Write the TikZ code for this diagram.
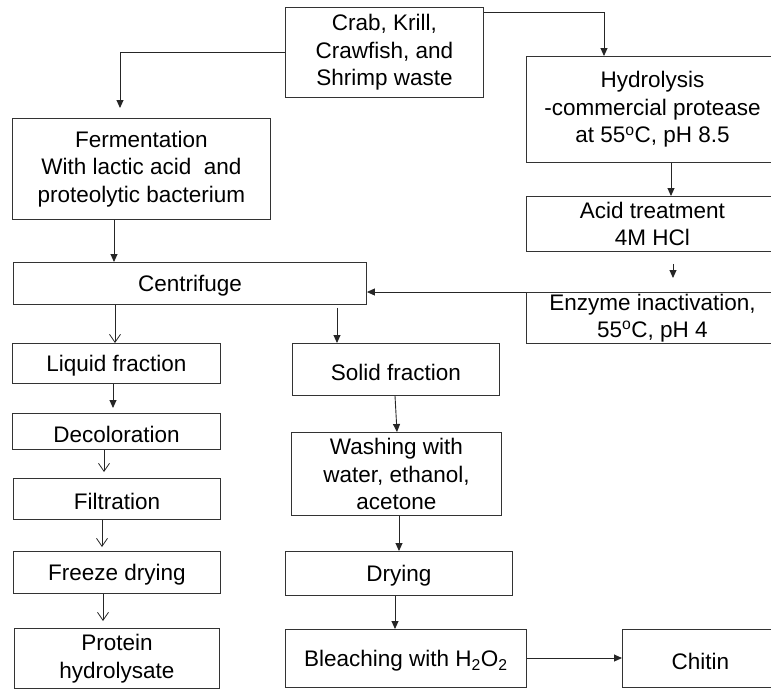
\documentclass[tikz,border=0pt]{standalone}
\usepackage{fontspec}
\setmainfont{Liberation Sans}
\usetikzlibrary{arrows.meta}
\begin{document}
\begin{tikzpicture}[x=1pt,y=-1pt,
  box/.style={draw=black!80, line width=0.9pt, anchor=north west, inner sep=0pt, align=center,
    font=\fontsize{22.5}{27.5}\selectfont, execute at begin node={\rule{0pt}{21.5pt}}},
  fl/.style={draw=black!85, line width=0.9pt, -{Triangle[length=8pt,width=7pt]}},
  op/.style={draw=black!85, line width=0.8pt, -{Straight Barb[length=8pt,width=11pt]}}]
\useasboundingbox (0,0) rectangle (771,689);
\clip (0,0) rectangle (771,689);
\newcommand{\bx}[6]{\node[box, minimum width=#4-#2, minimum height=#5-#3] (#1) at (#2,#3) {#6};}
\bx{crab}{285}{7}{483}{97}{Crab, Krill,\\Crawfish, and\\Shrimp waste}
\bx{ferm}{12}{118}{270}{219}{Fermentation\\With lactic acid\ \ and\\proteolytic bacterium}
\bx{hyd}{526}{56}{778}{162}{Hydrolysis\\-commercial protease\\at 55\textsuperscript{o}C, pH 8.5}
\bx{acid}{526}{196}{778}{251}{Acid treatment\\4M HCl}
\bx{enz}{526}{292}{778}{343}{Enzyme inactivation,\\55\textsuperscript{o}C, pH 4}
\bx{centr}{13}{262}{366}{304}{Centrifuge}
\bx{liq}{12}{343}{220}{383}{Liquid fraction}
\bx{decol}{12}{413}{220}{449}{Decoloration}
\bx{filt}{13}{478}{220}{519}{Filtration}
\bx{freeze}{13}{551}{220}{593}{Freeze drying}
\bx{prot}{14}{628}{219}{688}{Protein\\hydrolysate}
\bx{solid}{292}{343}{499}{395}{Solid fraction}
\bx{wash}{291}{432}{501}{515}{Washing with\\water, ethanol,\\acetone}
\bx{dry}{285}{551}{512}{595}{Drying}
\bx{bleach}{285}{629}{526}{687}{Bleaching with H\textsubscript{2}O\textsubscript{2}}
\bx{chitin}{622}{629}{778}{687}{Chitin}
% connectors
\draw[fl, shorten >=10pt] (crab.west) -| (ferm.north -| 120,0);
\draw[fl] (crab.east |- 0,12) -| (hyd.north -| 604,0);
\draw[fl] (ferm.south -| 114,0) -- (centr.north -| 114,0);
\draw[fl] (hyd.south -| 671,0) -- (acid.north -| 671,0);
\draw[fl, shorten <=12pt, shorten >=14pt] (acid.south -| 673,0) -- (enz.north -| 673,0);
\draw[fl] (enz.north west) -- (enz.north west -| centr.east);
\draw[op] (centr.south -| 115,0) -- (liq.north -| 115,0);
\draw[fl, shorten <=3pt] (centr.south -| 337,0) -- (solid.north -| 337,0);
\draw[fl, shorten >=5pt] (liq.south -| 113,0) -- (decol.north -| 113,0);
\draw[op, shorten >=6pt] (decol.south -| 104,0) -- (filt.north -| 104,0);
\draw[op, shorten >=4pt] (filt.south -| 102,0) -- (freeze.north -| 102,0);
\draw[op, shorten >=7pt] (freeze.south -| 103,0) -- (prot.north -| 103,0);
\draw[fl] (solid.south -| 395,0) -- (wash.north -| 397,0);
\draw[fl] (wash.south -| 399,0) -- (dry.north -| 399,0);
\draw[fl] (dry.south -| 395,0) -- (bleach.north -| 395,0);
\draw[fl] (bleach.east |- 0,658) -- (chitin.west |- 0,658);
\end{tikzpicture}
\end{document}
